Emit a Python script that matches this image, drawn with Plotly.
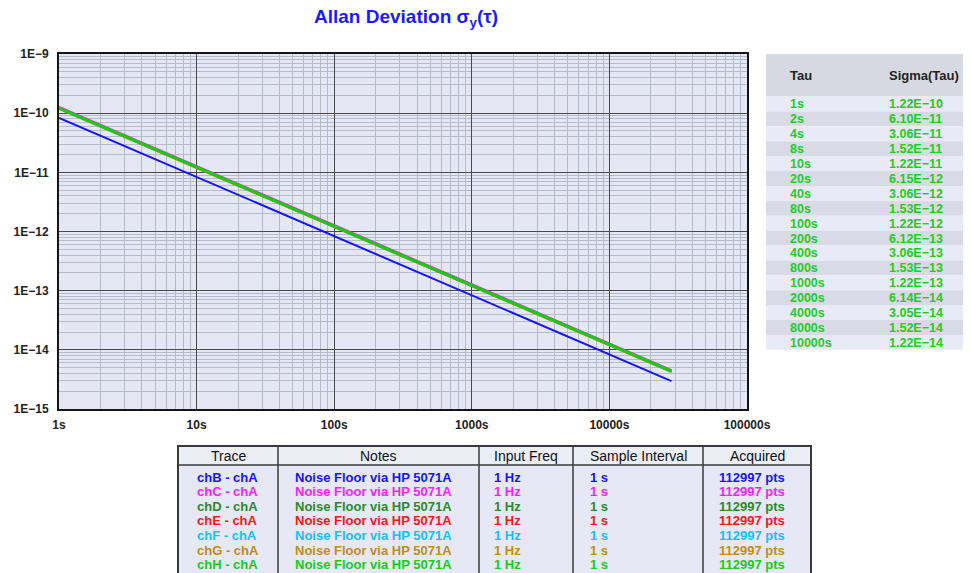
import plotly.graph_objects as go

W, H = 971, 573
OX, OY = 8, 8   # page body margin offset
FONT = "Liberation Sans, Arial, sans-serif"


def fx(px):
    return (px - OX) / W


def fy(py):
    return 1 - (py - OY) / H


# ---------------- data ----------------
trace_names = ["chB - chA", "chC - chA", "chD - chA", "chE - chA", "chF - chA", "chG - chA", "chH - chA"]
trace_colors = ["#1414ff", "#ff1aff", "#2a8a2a", "#ff1414", "#14c0ff", "#c48c10", "#16cc16"]
trace_widths = [2, 2, 2, 2, 2, 2, 3]

tau_pts = [1, 10, 100, 1000, 10000, 28249]
sig_chB = [8.35e-11, 8.35e-12, 8.33e-13, 8.35e-14, 8.33e-15, 2.95e-15]
sig_chC = [1.28e-10, 1.28e-11, 1.28e-12, 1.28e-13, 1.28e-14, 4.55e-15]
sig_chD = [1.23e-10, 1.23e-11, 1.23e-12, 1.23e-13, 1.23e-14, 4.37e-15]
sig_chE = [1.22e-10, 1.22e-11, 1.22e-12, 1.22e-13, 1.22e-14, 4.33e-15]
sig_chF = [1.21e-10, 1.21e-11, 1.21e-12, 1.21e-13, 1.21e-14, 4.30e-15]
sig_chG = [1.18e-10, 1.18e-11, 1.18e-12, 1.18e-13, 1.18e-14, 4.20e-15]

tau_chH = [1, 2, 4, 8, 10, 20, 40, 80, 100, 200, 400, 800, 1000, 2000, 4000, 8000, 10000, 28249]
sig_chH = [1.22e-10, 6.10e-11, 3.06e-11, 1.52e-11, 1.22e-11, 6.15e-12, 3.06e-12, 1.53e-12,
           1.22e-12, 6.12e-13, 3.06e-13, 1.53e-13, 1.22e-13, 6.14e-14, 3.05e-14, 1.52e-14,
           1.22e-14, 4.35e-15]

table_tau = ["1s", "2s", "4s", "8s", "10s", "20s", "40s", "80s", "100s", "200s", "400s",
             "800s", "1000s", "2000s", "4000s", "8000s", "10000s"]
table_sigma = ["1.22E\u221210", "6.10E\u221211", "3.06E\u221211", "1.52E\u221211", "1.22E\u221211",
               "6.15E\u221212", "3.06E\u221212", "1.53E\u221212", "1.22E\u221212", "6.12E\u221213",
               "3.06E\u221213", "1.53E\u221213", "1.22E\u221213", "6.14E\u221214", "3.05E\u221214",
               "1.52E\u221214", "1.22E\u221214"]

bottom_headers = ["Trace", "Notes", "Input Freq", "Sample Interval", "Acquired"]
notes = ["Noise Floor via HP 5071A"] * 7
input_freq = ["1 Hz"] * 7
sample_interval = ["1 s"] * 7
acquired = ["112997 pts"] * 7

x_tickvals = [1, 10, 100, 1000, 10000, 100000]
x_ticktext = ["1s", "10s", "100s", "1000s", "10000s", "100000s"]
y_tickvals = [1e-15, 1e-14, 1e-13, 1e-12, 1e-11, 1e-10, 1e-9]
y_ticktext = ["1E\u221215", "1E\u221214", "1E\u221213", "1E\u221212", "1E\u221211", "1E\u221210", "1E\u22129"]

# ---------------- figure ----------------
fig = go.Figure()
series = [(tau_pts, sig_chB), (tau_pts, sig_chC), (tau_pts, sig_chD), (tau_pts, sig_chE),
          (tau_pts, sig_chF), (tau_pts, sig_chG), (tau_chH, sig_chH)]
for (xs, ys), name, col, wd in zip(series, trace_names, trace_colors, trace_widths):
    fig.add_trace(go.Scatter(x=xs, y=ys, mode="lines", name=name,
                             line=dict(color=col, width=wd), hoverinfo="skip",
                             showlegend=False))

x_minor = [m * 10 ** k for k in range(0, 5) for m in range(2, 10)]
y_minor = [m * 10.0 ** k for k in range(-15, -9) for m in range(2, 10)]

PL, PR, PT, PB = 59, 747, 54, 409
tickfont = dict(family=FONT, size=12, color="#222", weight="bold")

fig.update_xaxes(type="log", range=[0, 5], domain=[fx(PL), fx(PR)], anchor="y",
                 tickmode="array", tickvals=x_tickvals, ticktext=x_ticktext,
                 showgrid=True, gridcolor="#4a4a4a", gridwidth=1,
                 minor=dict(tickmode="array", tickvals=x_minor, showgrid=True,
                            gridcolor="#b4bccb", gridwidth=1, ticks=""),
                 showline=True, linecolor="#151515", linewidth=2, mirror=True,
                 ticks="", zeroline=False, automargin=False, ticklabelstandoff=4,
                 tickfont=tickfont)
fig.update_yaxes(type="log", range=[-15, -9], domain=[fy(PB), fy(PT)], anchor="x",
                 tickmode="array", tickvals=y_tickvals, ticktext=y_ticktext,
                 showgrid=True, gridcolor="#4a4a4a", gridwidth=1,
                 minor=dict(tickmode="array", tickvals=y_minor, showgrid=True,
                            gridcolor="#b4bccb", gridwidth=1, ticks=""),
                 showline=True, linecolor="#151515", linewidth=2, mirror=True,
                 ticks="", zeroline=False, automargin=False, ticklabelstandoff=6,
                 tickfont=tickfont)

shapes = []
annotations = []


def rect(x0, y0, x1, y1, fill, line_color=None, lw=0):
    shapes.append(dict(type="rect", xref="paper", yref="paper", layer="below",
                       x0=fx(x0), x1=fx(x1), y0=fy(y1), y1=fy(y0), fillcolor=fill,
                       line=dict(color=line_color or fill, width=lw)))


def text(s, x, y, color, size, bold=True, anchor="left"):
    annotations.append(dict(text=("<b>%s</b>" % s) if bold else s, x=fx(x), y=fy(y),
                            xref="paper", yref="paper", xanchor=anchor, yanchor="middle",
                            showarrow=False,
                            font=dict(family=FONT, size=size, color=color)))


# ---------------- right table (Tau / Sigma) ----------------
RX0, RX1 = 766, 980
RHEAD0, RHEAD1 = 54, 96.5
RPITCH = 14.9
rect(RX0, RHEAD0, RX1, RHEAD1, "#d6d9e2")
text("Tau", 788, 75, "#222", 13)
text("Sigma(Tau)", 887, 75, "#222", 13)
for i, (t, s) in enumerate(zip(table_tau, table_sigma)):
    y0 = RHEAD1 + i * RPITCH
    rect(RX0, y0, RX1, y0 + RPITCH, "#e8ebf7" if i % 2 == 0 else "#d8dbe6")
    text(t, 788, y0 + RPITCH / 2 + 0.5, "#22cc22", 12.5)
    text(s, 887, y0 + RPITCH / 2 + 0.5, "#22cc22", 12.5)

# ---------------- bottom table ----------------
colw = [100, 201, 94, 130, 108]
col_pad = [17, 15, 13, 15, 14]
BX0, BY0, BHEAD = 178, 446, 465
BX1 = BX0 + sum(colw)
BPITCH = 14.65
rect(BX0, BY0, BX1, BHEAD, "#eceef6")
rect(BX0, BHEAD, BX1, 600, "#e6e9f5")
columns = [trace_names, notes, input_freq, sample_interval, acquired]
xcur = BX0
for j, (w, hdr, col) in enumerate(zip(colw, bottom_headers, columns)):
    text(hdr, xcur + w / 2, 456, "#111", 14, bold=False, anchor="center")
    for i, v in enumerate(col):
        text(v, xcur + col_pad[j], 477 + i * BPITCH, trace_colors[i], 13)
    if j > 0:
        shapes.append(dict(type="line", xref="paper", yref="paper",
                           x0=fx(xcur), x1=fx(xcur), y0=fy(600), y1=fy(BY0),
                           line=dict(color="#3a3a3a", width=1.5)))
    xcur += w
shapes.append(dict(type="line", xref="paper", yref="paper",
                   x0=fx(BX0), x1=fx(BX1), y0=fy(BHEAD), y1=fy(BHEAD),
                   line=dict(color="#3a3a3a", width=1.5)))
shapes.append(dict(type="rect", xref="paper", yref="paper",
                   x0=fx(BX0), x1=fx(BX1), y0=fy(600), y1=fy(BY0),
                   line=dict(color="#3a3a3a", width=2), fillcolor="rgba(0,0,0,0)"))

annotations.append(dict(text="<b>Allan Deviation \u03c3<sub>y</sub>(\u03c4)</b>",
                        x=fx((PL + PR) / 2 + 3), y=fy(18), xref="paper", yref="paper",
                        xanchor="center", yanchor="middle", showarrow=False,
                        font=dict(family=FONT, size=19, color="#1a1aff")))

fig.update_layout(
    width=W, height=H, margin=dict(l=0, r=0, t=0, b=0),
    paper_bgcolor="white", plot_bgcolor="#e5e8f4",
    showlegend=False, shapes=shapes, annotations=annotations,
)

fig.write_html("out.html")
